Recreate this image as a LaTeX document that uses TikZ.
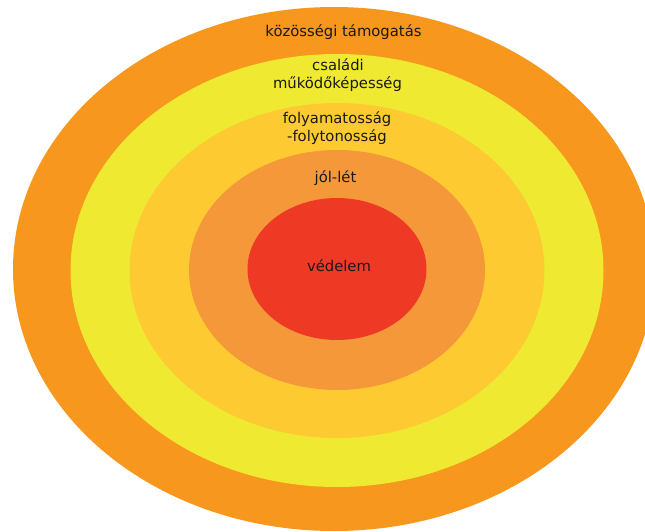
\documentclass[tikz,border=0pt]{standalone}
\usepackage{fontspec}
\setmainfont{DejaVu Sans}
\definecolor{ringA}{HTML}{F7971D}
\definecolor{ringB}{HTML}{F0E932}
\definecolor{ringC}{HTML}{FDCB31}
\definecolor{ringD}{HTML}{F4983A}
\definecolor{ringE}{HTML}{EE3A24}
\tikzset{
  lbl/.style={anchor=base, inner sep=0pt, font=\fontsize{14.8}{17}\selectfont, text=black!90}
}
\begin{document}
\begin{tikzpicture}[x=1pt,y=-1pt]
\useasboundingbox (0,0) rectangle (645,532);
\clip (0,0) rectangle (645,532);
\fill[ringA] (334,269) ellipse [x radius=321, y radius=262];
\fill[ringB] (337,270.5) ellipse [x radius=266.5, y radius=216.5];
\fill[ringC] (337,270.5) ellipse [x radius=207.5, y radius=167.5];
\fill[ringD] (337,270) ellipse [x radius=148, y radius=120];
\fill[ringE] (337,269) ellipse [x radius=89.5, y radius=71];
\node[lbl] (kozossegi) at (343.5,36.5) {közösségi támogatás};
\node[lbl] (csaladi1) at (338,71) {családi};
\node[lbl] (csaladi2) at (337.5,88.5) {működőképesség};
\node[lbl] (folyam1) at (337,123.5) {folyamatosság};
\node[lbl] (folyam2) at (337,141.5) {-folytonosság};
\node[lbl] (jollet) at (335.5,182.5) {jól-lét};
\node[lbl] (vedelem) at (339,271) {védelem};
\end{tikzpicture}
\end{document}
